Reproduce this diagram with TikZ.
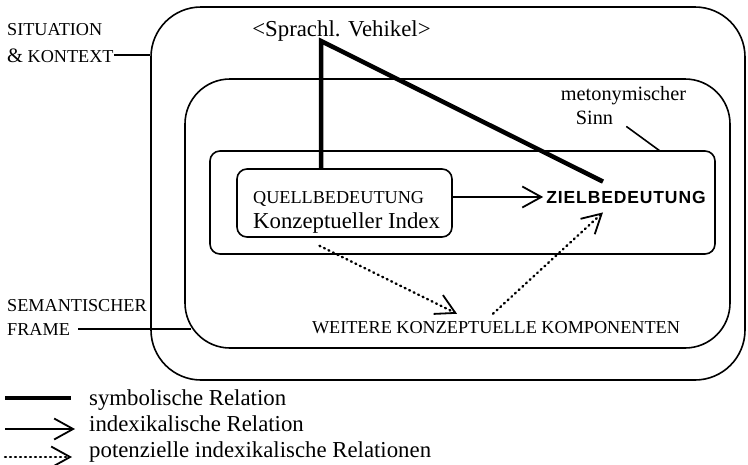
\documentclass[tikz,border=0pt]{standalone}
\usepackage{fontspec}
\setmainfont{Liberation Serif}
\newfontfamily\zielfont[LetterSpace=5]{Liberation Sans}
\usetikzlibrary{arrows.meta}

\begin{document}
\begin{tikzpicture}[
    x=1pt, y=-1pt,
    box/.style={draw, line width=1.6pt, inner sep=0pt},
    rel/.style={line width=1.6pt},
    symb/.style={line width=4.5pt},
    idx/.style={line width=1.8pt, -{Straight Barb[length=19pt,width=21pt,line width=1.8pt]}},
    potidx/.style={idx, line width=2.4pt, line cap=round, dash pattern=on 1pt off 4pt},
    caps/.style={font=\fontsize{18.2}{22}\selectfont, inner sep=0pt},
    txt/.style={font=\fontsize{22.8}{26}\selectfont, inner sep=0pt},
    meto/.style={font=\fontsize{20.3}{24}\selectfont, inner sep=0pt}
    ]
    \useasboundingbox (0,0) rectangle (748,464);

    \node [box, rounded corners=50pt, minimum width=594pt, minimum height=373pt] (situation) at (448,193.5) {};
    \node [box, rounded corners=45pt, minimum width=545pt, minimum height=269pt] (frame) at (457.5,213.5) {};
    \node [box, rounded corners=10pt, minimum width=505pt, minimum height=103pt] (metobox) at (462.5,202.5) {};
    \node [box, rounded corners=10pt, minimum width=215pt, minimum height=68pt] (quell) at (344.5,203) {};

    \node [caps, anchor=base west] (sitlbl) at (7,35) {SITUATION};
    \node [caps, anchor=base west] (kontext) at (7,62) {{\fontsize{20.5}{22}\selectfont\&} KONTEXT};
    \draw [rel] (kontext.east) -- (kontext.east -| situation.west);
    \node [caps, anchor=base west] (semlbl) at (7,311) {SEMANTISCHER};
    \node [caps, anchor=base west] (framelbl) at (7,335) {FRAME};
    \draw [rel, shorten <=8pt, shorten >=-7pt] (framelbl.east) -- (framelbl.east -| frame.west);

    \node [txt, anchor=base] (vehikel) at (341.5,36) {<Sprachl. Vehikel>};
    \coordinate (apex) at (321,41);

    \node [meto, anchor=base] (metolbl) at (623.5,100) {metonymischer};
    \node [meto, anchor=base] (sinn) at (594.5,124) {Sinn};
    \coordinate (sinnend) at (660,151);
    \draw [rel] ([xshift=13pt,yshift=-2pt]sinn.south east) -- (sinnend);

    \node [caps, anchor=base west] (qtitle) at (253,203) {QUELLBEDEUTUNG};
    \node [txt, anchor=base west] (qindex) at (253,228) {Konzeptueller Index};
    \node [font=\zielfont\bfseries\fontsize{17.5}{20}\selectfont, inner xsep=3pt, inner ysep=9pt] (ziel) at (626,197) {ZIELBEDEUTUNG};
    \node [caps, anchor=base, inner ysep=7pt] (weitere) at (496,333) {WEITERE KONZEPTUELLE KOMPONENTEN};

    \draw [symb] (apex |- quell.north) -- (apex) -- ([xshift=-23pt]ziel.north);
    \draw [idx] (quell.east |- ziel.west) -- (ziel.west);
    \draw [potidx] ([xshift=-25pt,yshift=-8pt]quell.south) -- ([xshift=-39pt]weitere.north);
    \draw [potidx] ([xshift=-3pt]weitere.north) -- ([xshift=-23pt]ziel.south);

    \node [txt, anchor=base west] (lsym) at (89,405) {symbolische Relation};
    \node [txt, anchor=base west] (lidx) at (89,431) {indexikalische Relation};
    \node [txt, anchor=base west] (lpot) at (89,457) {potenzielle indexikalische Relationen};
    \draw [symb] ([xshift=-84pt,yshift=7pt]lsym.base west) -- ([xshift=-18pt,yshift=7pt]lsym.base west);
    \draw [idx] ([xshift=-84pt,yshift=2pt]lidx.base west) -- ([xshift=-14pt,yshift=2pt]lidx.base west);
    \draw [potidx] ([xshift=-84pt]lpot.base west) -- ([xshift=-17pt]lpot.base west);
\end{tikzpicture}
\end{document}
